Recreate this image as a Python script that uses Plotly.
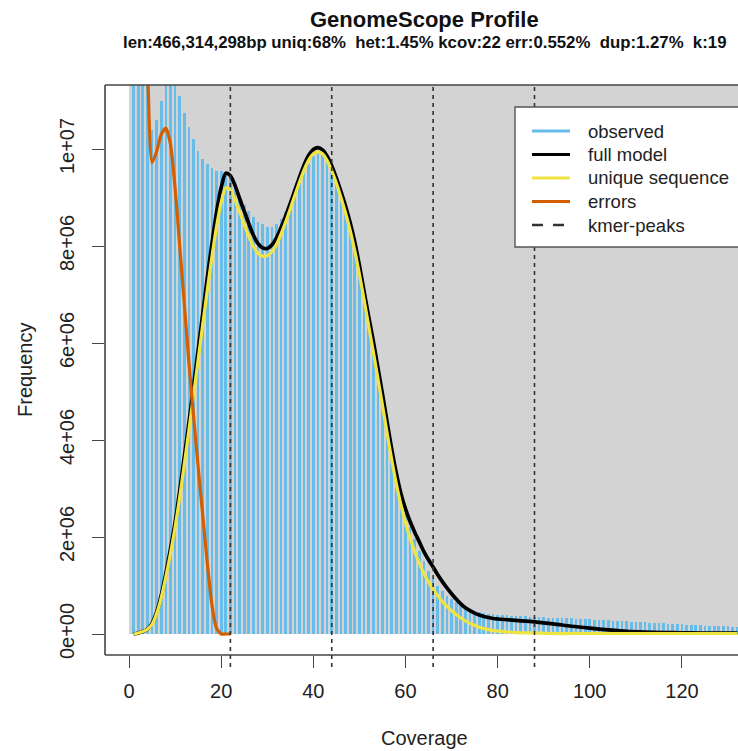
import plotly.graph_objects as go

# ---------------- data (frequencies in millions) ----------------
coverage = list(range(1, 133))
observed_m = [
    60.0, 30.0, 18.0, 11.8, 10.4, 10.6, 11.0, 11.6, 11.8, 11.5,
    11.1, 10.75, 10.45, 10.2, 9.95, 9.8, 9.7, 9.6, 9.55, 9.55,
    9.5, 9.4, 9.2, 9.0, 8.85, 8.72, 8.6, 8.5, 8.45, 8.4,
    8.4, 8.45, 8.55, 8.7, 8.9, 9.1, 9.3, 9.5, 9.7, 9.85,
    9.9, 9.9, 9.78, 9.6, 9.35, 9.05, 8.7, 8.35, 7.95, 7.5,
    6.95, 6.4, 5.9, 5.4, 4.85, 4.3, 3.75, 3.25, 2.85, 2.5,
    2.2, 1.95, 1.72, 1.5, 1.3, 1.13, 0.99, 0.88, 0.79, 0.72,
    0.66, 0.6, 0.55, 0.51, 0.48, 0.45, 0.43, 0.42, 0.41, 0.40,
    0.39, 0.39, 0.38, 0.38, 0.37, 0.37, 0.36, 0.36, 0.35, 0.35,
    0.34, 0.34, 0.33, 0.33, 0.32, 0.32, 0.31, 0.31, 0.30, 0.30,
    0.29, 0.29, 0.28, 0.28, 0.27, 0.27, 0.26, 0.26, 0.25, 0.25,
    0.24, 0.24, 0.23, 0.23, 0.22, 0.22, 0.21, 0.21, 0.20, 0.20,
    0.19, 0.19, 0.18, 0.18, 0.17, 0.17, 0.17, 0.16, 0.16, 0.16, 0.15, 0.15,
]

model_x = list(range(1, 81)) + [84, 88, 92, 96, 100, 104, 108, 112, 116, 120, 124, 128, 132]
full_model_m = [
    0.0, 0.02, 0.05, 0.1, 0.22, 0.45, 0.8, 1.25, 1.75, 2.3,
    2.95, 3.65, 4.35, 5.1, 5.85, 6.6, 7.35, 8.05, 8.7, 9.2,
    9.5, 9.45, 9.25, 8.98, 8.72, 8.46, 8.22, 8.05, 7.96, 7.95,
    8.02, 8.17, 8.38, 8.62, 8.88, 9.15, 9.42, 9.67, 9.87, 9.99,
    10.03, 9.98, 9.85, 9.65, 9.4, 9.12, 8.82, 8.48, 8.08, 7.6,
    7.07, 6.55, 6.05, 5.5, 4.95, 4.38, 3.82, 3.32, 2.9, 2.58,
    2.32, 2.1, 1.9, 1.7, 1.53, 1.38, 1.22, 1.08, 0.95, 0.83,
    0.72, 0.62, 0.54, 0.48, 0.43, 0.39, 0.36, 0.34, 0.32, 0.31,
    0.28, 0.25, 0.21, 0.16, 0.12, 0.085, 0.055, 0.04, 0.03, 0.025, 0.02, 0.02, 0.02,
]
unique_m = [
    0.0, 0.02, 0.05, 0.1, 0.2, 0.42, 0.75, 1.18, 1.66, 2.2,
    2.82, 3.5, 4.2, 4.92, 5.65, 6.38, 7.1, 7.78, 8.4, 8.9,
    9.2, 9.15, 8.95, 8.7, 8.45, 8.2, 7.99, 7.85, 7.79, 7.8,
    7.88, 8.03, 8.25, 8.5, 8.77, 9.05, 9.32, 9.57, 9.77, 9.9,
    9.94, 9.9, 9.76, 9.55, 9.3, 9.0, 8.68, 8.32, 7.9, 7.42,
    6.9, 6.36, 5.83, 5.28, 4.72, 4.15, 3.6, 3.1, 2.67, 2.3,
    1.98, 1.7, 1.46, 1.25, 1.07, 0.92, 0.79, 0.67, 0.57, 0.48,
    0.4, 0.33, 0.27, 0.22, 0.18, 0.14, 0.11, 0.09, 0.07, 0.06,
    0.03, 0.02, 0.01, 0.01, 0.01, 0.01, 0.01, 0.01, 0.01, 0.01, 0.01, 0.01, 0.01,
]
errors_x = list(range(2, 23))
errors_m = [
    30.0, 18.0, 11.9, 9.72, 9.95, 10.3, 10.43, 10.1, 9.2, 8.0,
    6.8, 5.6, 4.5, 3.45, 2.45, 1.45, 0.6, 0.12, 0.0, 0.0, 0.0,
]
kmer_peaks = [22, 44, 66, 88]

x_ticks = [0, 20, 40, 60, 80, 100, 120]
y_ticks = [0, 2e6, 4e6, 6e6, 8e6, 1e7]
y_ticktext = ["0e+00", "2e+06", "4e+06", "6e+06", "8e+06", "1e+07"]

legend_labels = ["observed", "full model", "unique sequence", "errors", "kmer-peaks"]
title_text = "GenomeScope Profile"
subtitle_text = "len:466,314,298bp uniq:68%  het:1.45% kcov:22 err:0.552%  dup:1.27%  k:19"

# ---------------- style ----------------
C_HIST = "#68BCE9"
C_BG = "#D3D3D3"
C_MODEL = "#000000"
C_UNIQUE = "#F0E442"
C_ERR = "#D55E00"
FONT = "Liberation Sans, Arial, Helvetica, sans-serif"
TXT = "#222222"

M = 1e6
obs = [v * M for v in observed_m]
full_model = [v * M for v in full_model_m]
unique = [v * M for v in unique_m]
errors = [v * M for v in errors_m]

fig = go.Figure()
fig.add_trace(go.Bar(x=coverage, y=obs, width=0.58, marker=dict(color=C_HIST, line=dict(width=0)),
                     showlegend=False, hoverinfo="x+y"))
fig.add_trace(go.Scatter(x=model_x, y=full_model, mode="lines",
                         line=dict(color=C_MODEL, width=3.7, shape="spline", smoothing=0.8), showlegend=False))
fig.add_trace(go.Scatter(x=model_x, y=unique, mode="lines",
                         line=dict(color=C_UNIQUE, width=3.2, shape="spline", smoothing=0.8), showlegend=False))
fig.add_trace(go.Scatter(x=errors_x, y=errors, mode="lines",
                         line=dict(color=C_ERR, width=3.2, shape="spline", smoothing=0.6), showlegend=False))

# plot region geometry (pixels)
L, R, T, B = 105, 738, 85, 655
W, H = 738, 751
pw, ph = R - L, B - T
def px(xp):
    return (xp - L) / pw
def py(yp):
    return (B - yp) / ph

shapes = []
shapes.append(dict(type="rect", xref="x", yref="y", x0=0, x1=400, y0=0, y1=1e8,
                   fillcolor=C_BG, line=dict(width=0), layer="below"))
for k in kmer_peaks:
    shapes.append(dict(type="line", xref="x", yref="paper", x0=k, x1=k, y0=-12 / ph, y1=1,
                       line=dict(color="#333333", width=1.6, dash="4px,4px"), layer="above"))
box_col = "#444444"
shapes.append(dict(type="line", xref="paper", yref="paper", x0=0, x1=0, y0=0, y1=1,
                   line=dict(color=box_col, width=1.6)))
shapes.append(dict(type="line", xref="paper", yref="paper", x0=0, x1=1.05, y0=1, y1=1,
                   line=dict(color=box_col, width=1.6)))
shapes.append(dict(type="line", xref="paper", yref="paper", x0=0, x1=1.05, y0=0, y1=0,
                   line=dict(color=box_col, width=1.6)))

# manual legend
shapes.append(dict(type="rect", xref="paper", yref="paper", x0=px(515), x1=px(760), y0=py(247), y1=py(107),
                   fillcolor="white", line=dict(color="#555555", width=1.4), layer="above"))
legend_colors = [C_HIST, C_MODEL, C_UNIQUE, C_ERR, "#333333"]
legend_rows = [131, 154.5, 178, 201.5, 225]
annotations = []
for lab, col, yr in zip(legend_labels, legend_colors, legend_rows):
    if lab == "kmer-peaks":
        ln = dict(color=col, width=2.6, dash="11px,10px")
        xe = 564
    else:
        ln = dict(color=col, width=3.2)
        xe = 570
    shapes.append(dict(type="line", xref="paper", yref="paper", x0=px(532), x1=px(xe), y0=py(yr), y1=py(yr),
                       line=ln, layer="above"))
    annotations.append(dict(text=lab, xref="paper", yref="paper", x=px(586), y=py(yr), xanchor="left",
                            yanchor="middle", showarrow=False, font=dict(family=FONT, size=18.5, color=TXT)))

annotations.append(dict(text="<b>" + title_text + "</b>", xref="paper", yref="paper", x=px(424), y=py(19),
                        xanchor="center", yanchor="middle", showarrow=False,
                        font=dict(family=FONT, size=22, color="#111111")))
annotations.append(dict(text="<b>" + subtitle_text + "</b>", xref="paper", yref="paper", x=px(424), y=py(43),
                        xanchor="center", yanchor="middle", showarrow=False,
                        font=dict(family=FONT, size=16.8, color="#111111")))
annotations.append(dict(text="Coverage", xref="paper", yref="paper", x=px(424), y=py(738),
                        xanchor="center", yanchor="middle", showarrow=False,
                        font=dict(family=FONT, size=20, color=TXT)))
annotations.append(dict(text="Frequency", xref="paper", yref="paper", x=px(25), y=py(370),
                        xanchor="center", yanchor="middle", showarrow=False, textangle=-90,
                        font=dict(family=FONT, size=20, color=TXT)))

x0_val = -(129 - L) / 4.608
x1_val = x0_val + pw / 4.608
y_per_px = 1e6 / 48.5
fig.update_layout(
    width=W, height=H,
    margin=dict(l=L, r=W - R, t=T, b=H - B, pad=0),
    paper_bgcolor="white", plot_bgcolor="white",
    showlegend=False, bargap=0,
    shapes=shapes, annotations=annotations,
    xaxis=dict(range=[x0_val, x1_val], tickvals=x_ticks, ticks="outside", ticklen=12, tickwidth=1.4,
               tickcolor="#444444", showline=False, showgrid=False, zeroline=False,
               tickfont=dict(family=FONT, size=20, color=TXT), ticklabelstandoff=6),
    yaxis=dict(range=[-(B - 634) * y_per_px, (634 - T) * y_per_px], tickvals=y_ticks, ticktext=y_ticktext,
               tickangle=-90, ticks="outside", ticklen=12, tickwidth=1.4, tickcolor="#444444",
               showline=False, showgrid=False, zeroline=False,
               tickfont=dict(family=FONT, size=20, color=TXT), ticklabelstandoff=10),
)

fig.write_html("out.html", config={"displayModeBar": False},
               post_script="document.body.style.margin='0px';document.body.style.padding='0px';")
